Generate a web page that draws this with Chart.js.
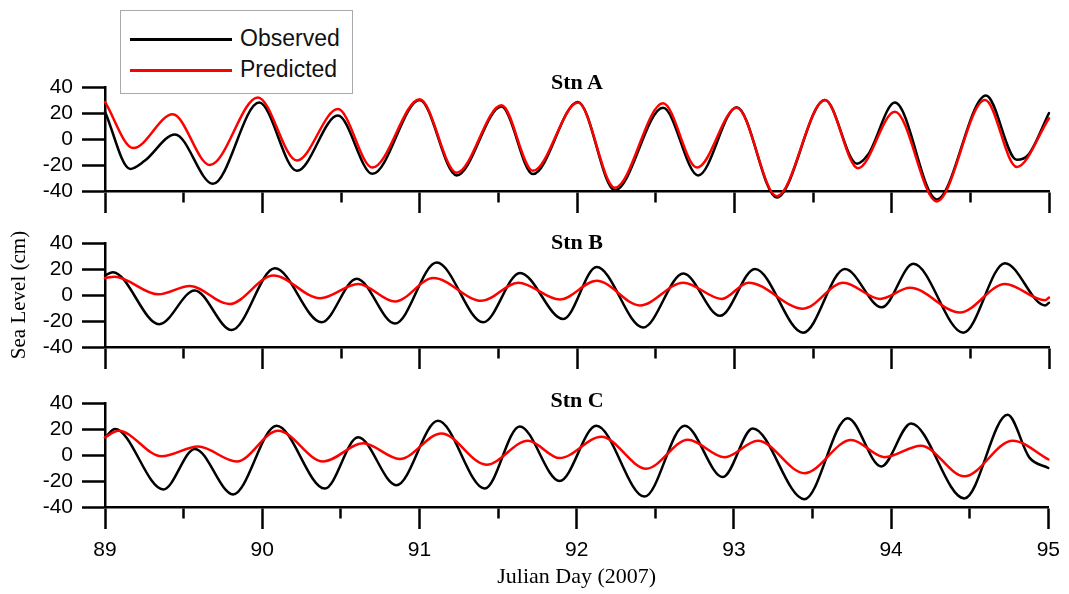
<!DOCTYPE html>
<html>
<head>
<meta charset="utf-8">
<script src="https://cdn.jsdelivr.net/npm/chart.js@4/dist/chart.umd.min.js"></script>
<style>
  html, body { margin: 0; padding: 0; background: #fff; }
  #wrap { position: relative; width: 1069px; height: 594px; overflow: hidden; background: #fff; }
  #wrap canvas { position: absolute; left: 0; }
  .stn { position: absolute; left: 105px; width: 944px; text-align: center;
         font: bold 22px "Liberation Serif", "Times New Roman", serif; line-height: 22px; color: #000; z-index: 3; }
  #legend { position: absolute; left: 120px; top: 10px; width: 231px; height: 82px;
            border: 1px solid #aaa; background: #fff; z-index: 5; }
  #legend .key { position: absolute; left: 9px; width: 102px; height: 3px; }
  #legend .lbl { position: absolute; left: 119px; font: 23px "Liberation Sans", Arial, sans-serif;
                 line-height: 23px; color: #111; white-space: nowrap; }
</style>
</head>
<body>
<div id="wrap">
  <canvas id="panelA" width="1069" height="216" style="top:0px"></canvas>
  <canvas id="panelB" width="1069" height="156" style="top:216px"></canvas>
  <canvas id="panelC" width="1069" height="222" style="top:372px"></canvas>
  <div class="stn" style="top:71px">Stn A</div>
  <div class="stn" style="top:231px">Stn B</div>
  <div class="stn" style="top:389px">Stn C</div>
  <div id="legend">
    <div class="key" style="top:27px;background:#000"></div>
    <div class="lbl" style="top:16px">Observed</div>
    <div class="key" style="top:58px;background:#ff0000"></div>
    <div class="lbl" style="top:47px">Predicted</div>
  </div>
</div>
<script>
// Sea level (cm) against Julian day 2007, as [day, cm] pairs at the turning points of each record
const stnA_observed = [
  [89.0, 21], [89.16, -23], [89.25, -17], [89.445, 3.5], [89.686, -34.5], [89.98, 28],
  [90.22, -24.5], [90.48, 18], [90.70, -26.8], [91.0, 30], [91.235, -28], [91.52, 25],
  [91.72, -27], [92.006, 28.5], [92.241, -39.5], [92.547, 24], [92.77, -28], [93.015, 24.5],
  [93.27, -45], [93.576, 30], [93.78, -19], [93.85, -12], [94.021, 28], [94.286, -46.5],
  [94.6, 33.5], [94.795, -16], [94.87, -12], [95.0, 20]
];
const stnA_predicted = [
  [89.0, 28.5], [89.18, -7], [89.43, 19], [89.667, -20], [89.972, 32], [90.22, -16.5],
  [90.48, 23], [90.70, -22], [91.0, 30.5], [91.235, -26], [91.52, 26], [91.72, -24.5],
  [92.006, 28], [92.241, -37.5], [92.547, 27.5], [92.763, -22], [93.015, 24], [93.27, -44],
  [93.576, 30], [93.786, -22.5], [94.021, 21], [94.286, -48], [94.593, 30], [94.795, -21.5],
  [95.0, 16]
];
const stnB_observed = [
  [89.0, 15], [89.05, 17.5], [89.345, -22.5], [89.57, 3.5], [89.805, -27], [90.08, 20.5],
  [90.377, -21], [90.6, 12.5], [90.843, -22], [91.108, 25], [91.404, -21], [91.638, 17],
  [91.913, -18.5], [92.125, 21.5], [92.42, -25], [92.676, 16.5], [92.909, -16], [93.131, 20],
  [93.438, -29], [93.703, 20], [93.937, -9.5], [94.138, 24], [94.455, -29], [94.72, 24.5],
  [94.975, -8], [95.0, -6]
];
const stnB_predicted = [
  [89.0, 13], [89.06, 14], [89.339, 0.5], [89.54, 7], [89.79, -7], [90.07, 15],
  [90.367, -2.5], [90.61, 8.5], [90.843, -5], [91.087, 13], [91.394, -4.5], [91.627, 9.5],
  [91.892, -3.5], [92.125, 11], [92.4, -8], [92.676, 9.5], [92.92, -3], [93.09, 9.5],
  [93.438, -10.5], [93.693, 9.5], [93.926, -3], [94.117, 5.5], [94.434, -13.5], [94.72, 8.5],
  [94.975, -4], [95.0, -2]
];
const stnC_observed = [
  [89.0, 13.5], [89.064, 20], [89.371, -26.5], [89.572, 4.7], [89.815, -30.3], [90.091, 22.5],
  [90.398, -25.8], [90.61, 13.6], [90.854, -23.2], [91.118, 26.3], [91.415, -25.8], [91.638, 22],
  [91.892, -20], [92.125, 22.5], [92.432, -32], [92.687, 22.5], [92.93, -17], [93.12, 20.4],
  [93.449, -34], [93.724, 28.3], [93.937, -8.8], [94.127, 24.2], [94.466, -33.4], [94.741, 30.9],
  [94.88, -2], [95.0, -10]
];
const stnC_predicted = [
  [89.0, 13.6], [89.085, 18.7], [89.36, -1], [89.593, 6.5], [89.837, -5], [90.101, 18.7],
  [90.388, -5], [90.642, 9], [90.875, -3], [91.14, 16.6], [91.426, -7.5], [91.69, 11],
  [91.892, -2.4], [92.157, 14], [92.443, -10.5], [92.708, 11.8], [92.941, -1.7], [93.152, 11],
  [93.449, -14], [93.746, 11.6], [93.958, -1.7], [94.19, 7.2], [94.466, -16.4], [94.773, 11],
  [95.0, -3.4]
];
const dayRange = [89, 95];
const levelTicks = [-40, -20, 0, 20, 40];

const toXY = pairs => pairs.map(([x, y]) => ({ x, y }));
const SANS = '"Liberation Sans", Arial, sans-serif';
const SERIF = '"Liberation Serif", "Times New Roman", serif';

function drawPanel(id, observed, predicted, cfg) {
  const lineStyle = {
    pointRadius: 0, borderWidth: 2.5, fill: false, clip: false,
    cubicInterpolationMode: 'monotone', borderJoinStyle: 'round', borderCapStyle: 'round'
  };
  new Chart(document.getElementById(id), {
    type: 'line',
    data: {
      datasets: [
        Object.assign({ label: 'Observed', data: toXY(observed), borderColor: '#000', order: 1 }, lineStyle),
        Object.assign({ label: 'Predicted', data: toXY(predicted), borderColor: '#ff0000', order: 0 }, lineStyle)
      ]
    },
    options: {
      responsive: false,
      animation: false,
      devicePixelRatio: 1,
      layout: { padding: { top: cfg.padTop, right: 20, left: 0, bottom: 0 } },
      plugins: { legend: { display: false }, tooltip: { enabled: false }, title: { display: false } },
      scales: {
        x: {
          type: 'linear', min: dayRange[0], max: dayRange[1],
          afterFit: s => { s.height = cfg.xHeight; },
          border: { display: true, color: '#000', width: 2.5 },
          grid: {
            drawOnChartArea: false, drawTicks: true, tickLength: 22,
            tickColor: '#000', tickWidth: 2.5,
            // half-day ticks are drawn shorter than whole-day ticks
            tickBorderDash: c => (c.tick && !Number.isInteger(c.tick.value)) ? [10, 60] : []
          },
          ticks: {
            stepSize: 0.5, autoSkip: false, maxRotation: 0, minRotation: 0,
            display: cfg.showDays, padding: 9, color: '#000',
            font: { family: SANS, size: 21 },
            callback: v => Number.isInteger(v) ? String(v) : ''
          },
          title: {
            display: cfg.showDays, text: 'Julian Day (2007)', color: '#000',
            font: { family: SERIF, size: 22 }, padding: { top: 0, bottom: 4 }
          }
        },
        y: {
          min: levelTicks[0], max: levelTicks[levelTicks.length - 1],
          afterFit: s => { s.width = 105; },
          afterBuildTicks: s => { s.ticks = levelTicks.map(v => ({ value: v })); },
          border: { display: true, color: '#000', width: 2.5 },
          grid: { drawOnChartArea: false, drawTicks: true, tickLength: 23, tickColor: '#000', tickWidth: 2.5 },
          ticks: { autoSkip: false, padding: 9, color: '#000', font: { family: SANS, size: 21, lineHeight: 1 } },
          title: {
            display: cfg.showLevelTitle, text: 'Sea Level (cm)', color: '#000',
            font: { family: SERIF, size: 21 }, padding: { top: 7, bottom: 0 }
          }
        }
      }
    }
  });
}

drawPanel('panelA', stnA_observed, stnA_predicted, { padTop: 87, xHeight: 25, showDays: false, showLevelTitle: false });
drawPanel('panelB', stnB_observed, stnB_predicted, { padTop: 27, xHeight: 25, showDays: false, showLevelTitle: true });
drawPanel('panelC', stnC_observed, stnC_predicted, { padTop: 31, xHeight: 87, showDays: true, showLevelTitle: false });
</script>
</body>
</html>
